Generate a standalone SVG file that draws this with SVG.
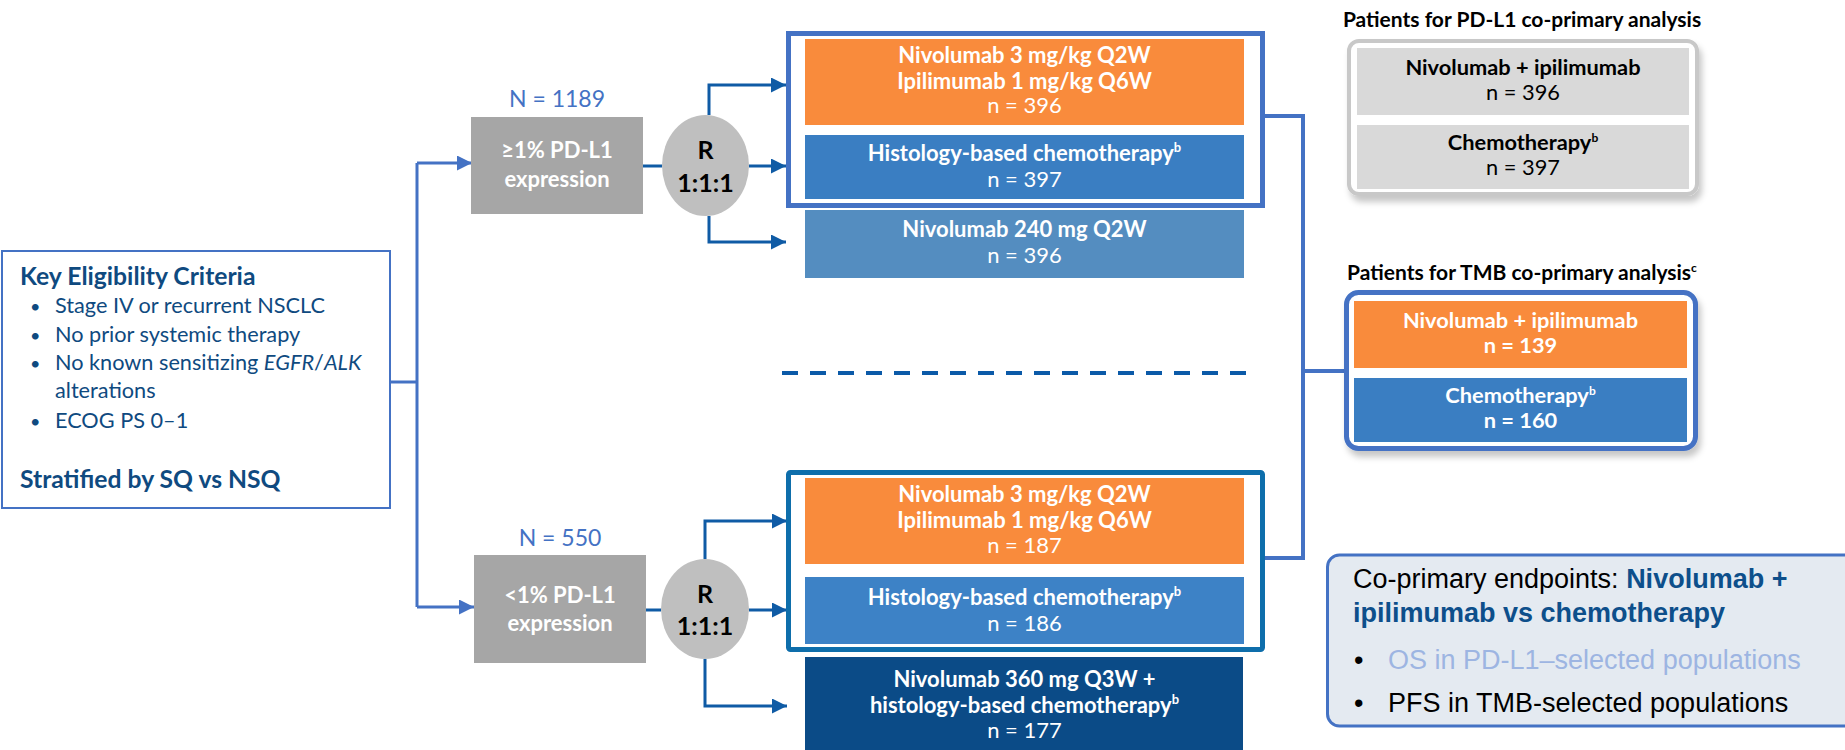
<svg xmlns="http://www.w3.org/2000/svg" width="1845" height="750" viewBox="0 0 1845 750">
<style>
.t{font-family:Lato,"Liberation Sans",sans-serif;}
.b{font-weight:bold;}
.w{fill:#ffffff;}
.c{text-anchor:middle;}
.elig{font-family:Lato,"Liberation Sans",sans-serif;fill:#0F4A80;font-size:21.7px;}
.eh{font-family:Lato,"Liberation Sans",sans-serif;fill:#0F4A80;font-size:24.7px;font-weight:bold;}
.bul{font-family:Lato,"Liberation Sans",sans-serif;fill:#0F4A80;font-size:18px;}
.arm{font-family:Lato,"Liberation Sans",sans-serif;fill:#ffffff;font-size:22px;text-anchor:middle;}
.lc{fill:none;stroke:#4472C4;stroke-width:3;}
.dc{fill:none;stroke:#0F5BA5;stroke-width:3;}
.ar{font-family:"Liberation Sans",Arial,sans-serif;font-size:27px;}
</style>
<defs>
<marker id="al" markerUnits="userSpaceOnUse" markerWidth="15" markerHeight="15" refX="15" refY="7.5" orient="auto">
<path d="M0,0 L15,7.5 L0,15 Z" fill="#4472C4"/>
</marker>
<marker id="ad" markerUnits="userSpaceOnUse" markerWidth="15" markerHeight="15" refX="15" refY="7.5" orient="auto">
<path d="M0,0 L15,7.5 L0,15 Z" fill="#0F5BA5"/>
</marker>
<filter id="sh" x="-10%" y="-10%" width="125%" height="130%">
<feDropShadow dx="3" dy="6" stdDeviation="3" flood-color="#000000" flood-opacity="0.22"/>
</filter>
</defs>

<g id="connectors">
<path class="lc" d="M390,382 H417"/>
<path class="lc" d="M417,163 V607"/>
<path class="lc" d="M417,163 H472" marker-end="url(#al)"/>
<path class="lc" d="M417,607 H474" marker-end="url(#al)"/>
<path class="dc" d="M643,166 H662"/>
<path class="dc" d="M709,115 V85 H786" marker-end="url(#ad)"/>
<path class="dc" d="M749,166 H786" marker-end="url(#ad)"/>
<path class="dc" d="M709,216 V242 H786" marker-end="url(#ad)"/>
<path class="dc" d="M646,610 H661"/>
<path class="dc" d="M705,559 V521 H787" marker-end="url(#ad)"/>
<path class="dc" d="M749,610 H787" marker-end="url(#ad)"/>
<path class="dc" d="M705,659 V706 H787" marker-end="url(#ad)"/>
<path fill="none" stroke="#4472C4" stroke-width="4" d="M1265,116 H1303 V558 H1265"/>
<path fill="none" stroke="#4472C4" stroke-width="4" d="M1303,371 H1346"/>
<path fill="none" stroke="#0B5AA8" stroke-width="4" stroke-dasharray="16 12" d="M782,373 H1250"/>
</g>

<g id="eligibility">
<rect x="2" y="251" width="388" height="257" fill="#ffffff" stroke="#4472C4" stroke-width="2"/>
<text class="eh" x="20" y="285">Key Eligibility Criteria</text>
<text class="bul" x="30" y="313">•</text><text class="elig" x="55" y="313">Stage IV or recurrent NSCLC</text>
<text class="bul" x="30" y="342">•</text><text class="elig" x="55" y="342">No prior systemic therapy</text>
<text class="bul" x="30" y="370">•</text><text class="elig" x="55" y="370">No known sensitizing <tspan font-style="italic">EGFR</tspan>/<tspan font-style="italic">ALK</tspan></text>
<text class="elig" x="55" y="398">alterations</text>
<text class="bul" x="30" y="428">•</text><text class="elig" x="55" y="428">ECOG PS 0–1</text>
<text class="eh" x="20" y="488">Stratified by SQ vs NSQ</text>
</g>

<g id="pdl1-pos">
<text class="t c" x="557" y="107" font-size="23" fill="#4472C4">N = 1189</text>
<rect x="471" y="117" width="172" height="97" fill="#A6A6A6"/>
<text class="t b c w" x="557" y="158" font-size="22">≥1% PD-L1</text>
<text class="t b c w" x="557" y="187" font-size="22">expression</text>
</g>
<g id="rand-top">
<ellipse cx="705.5" cy="165.5" rx="43.5" ry="50.5" fill="#BFBFBF"/>
<text class="t b c" x="705.5" y="159" font-size="25" fill="#000000">R</text>
<text class="t b c" x="705.5" y="192" font-size="25" fill="#000000">1:1:1</text>
</g>

<g id="pdl1-neg">
<text class="t c" x="560" y="546" font-size="23" fill="#4472C4">N = 550</text>
<rect x="474" y="555" width="172" height="108" fill="#A6A6A6"/>
<text class="t b c w" x="560" y="603" font-size="22">&lt;1% PD-L1</text>
<text class="t b c w" x="560" y="631" font-size="22">expression</text>
</g>
<g id="rand-bottom">
<ellipse cx="705" cy="609" rx="44" ry="50" fill="#BFBFBF"/>
<text class="t b c" x="705" y="603" font-size="25" fill="#000000">R</text>
<text class="t b c" x="705" y="635" font-size="25" fill="#000000">1:1:1</text>
</g>

<g id="top-arms">
<rect x="788.5" y="33.5" width="474" height="172" fill="#ffffff" stroke="#4472C4" stroke-width="5"/>
<rect x="805" y="39" width="439" height="86" fill="#F98B3C"/>
<text class="arm b" x="1024.5" y="63">Nivolumab 3 mg/kg Q2W</text>
<text class="arm b" x="1024.5" y="89">Ipilimumab 1 mg/kg Q6W</text>
<text class="arm" x="1024.5" y="113">n = 396</text>
<rect x="805" y="135" width="439" height="64" fill="#3A7EC2"/>
<text class="arm b" x="1024.5" y="161">Histology-based chemotherapy<tspan font-size="13" dy="-9">b</tspan></text>
<text class="arm" x="1024.5" y="187">n = 397</text>
</g>
<g id="top-nivo">
<rect x="805" y="210" width="439" height="68" fill="#548DC0"/>
<text class="arm b" x="1024.5" y="237">Nivolumab 240 mg Q2W</text>
<text class="arm" x="1024.5" y="263">n = 396</text>
</g>

<g id="bottom-arms">
<rect x="788.5" y="472.5" width="474" height="177" rx="2" fill="#ffffff" stroke="#0E6EAB" stroke-width="5"/>
<rect x="805" y="478" width="439" height="86" fill="#F98B3C"/>
<text class="arm b" x="1024.5" y="502">Nivolumab 3 mg/kg Q2W</text>
<text class="arm b" x="1024.5" y="528">Ipilimumab 1 mg/kg Q6W</text>
<text class="arm" x="1024.5" y="553">n = 187</text>
<rect x="805" y="577" width="439" height="67" fill="#3D82C6"/>
<text class="arm b" x="1024.5" y="605">Histology-based chemotherapy<tspan font-size="13" dy="-9">b</tspan></text>
<text class="arm" x="1024.5" y="631">n = 186</text>
</g>
<g id="bottom-nivo">
<rect x="805" y="657" width="438" height="93" fill="#0B4B87"/>
<text class="arm b" x="1024.5" y="687">Nivolumab 360 mg Q3W +</text>
<text class="arm b" x="1024.5" y="713">histology-based chemotherapy<tspan font-size="13" dy="-9">b</tspan></text>
<text class="arm" x="1024.5" y="738">n = 177</text>
</g>

<g id="pdl1-analysis">
<text class="t b c" x="1522" y="27" font-size="21" fill="#000000">Patients for PD-L1 co-primary analysis</text>
<rect x="1349" y="41" width="348" height="153" rx="10" fill="#ffffff" stroke="#C8C8C8" stroke-width="4" filter="url(#sh)"/>
<rect x="1357" y="48" width="332" height="67" fill="#D9D9D9"/>
<text class="t b c" x="1523" y="75" font-size="21.8" fill="#000000">Nivolumab + ipilimumab</text>
<text class="t c" x="1523" y="100" font-size="21.8" fill="#000000">n = 396</text>
<rect x="1357" y="125" width="332" height="64" fill="#D9D9D9"/>
<text class="t b c" x="1523" y="150" font-size="21.8" fill="#000000">Chemotherapy<tspan font-size="12" dy="-8">b</tspan></text>
<text class="t c" x="1523" y="175" font-size="21.8" fill="#000000">n = 397</text>
</g>

<g id="tmb-analysis">
<text class="t b c" x="1522" y="280" font-size="21" fill="#000000">Patients for TMB co-primary analysis<tspan font-size="12" dy="-8">c</tspan></text>
<rect x="1346.5" y="292.5" width="349" height="156" rx="12" fill="#ffffff" stroke="#4472C4" stroke-width="5" filter="url(#sh)"/>
<rect x="1354" y="301" width="333" height="67" fill="#F98B3C"/>
<text class="t b c w" x="1520.5" y="328" font-size="21.8">Nivolumab + ipilimumab</text>
<text class="t b c w" x="1520.5" y="353" font-size="21.8">n = 139</text>
<rect x="1354" y="378" width="333" height="64" fill="#3A7EC2"/>
<text class="t b c w" x="1520.5" y="403" font-size="21.8">Chemotherapy<tspan font-size="12" dy="-8">b</tspan></text>
<text class="t b c w" x="1520.5" y="428" font-size="21.8">n = 160</text>
</g>

<g id="endpoints">
<rect x="1327.5" y="555" width="540" height="171" rx="12" fill="#E4EAF1" stroke="#4472C4" stroke-width="3"/>
<text class="ar" x="1353" y="588" fill="#000000">Co-primary endpoints: <tspan font-weight="bold" fill="#0D4F8B">Nivolumab +</tspan></text>
<text class="ar" x="1353" y="622" font-weight="bold" fill="#0D4F8B">ipilimumab vs chemotherapy</text>
<text class="ar" x="1354" y="669" fill="#000000">•</text>
<text class="ar" x="1388" y="669" fill="#9DB5E2">OS in PD-L1–selected populations</text>
<text class="ar" x="1354" y="712" fill="#000000">•</text>
<text class="ar" x="1388" y="712" fill="#000000">PFS in TMB-selected populations</text>
</g>
</svg>
